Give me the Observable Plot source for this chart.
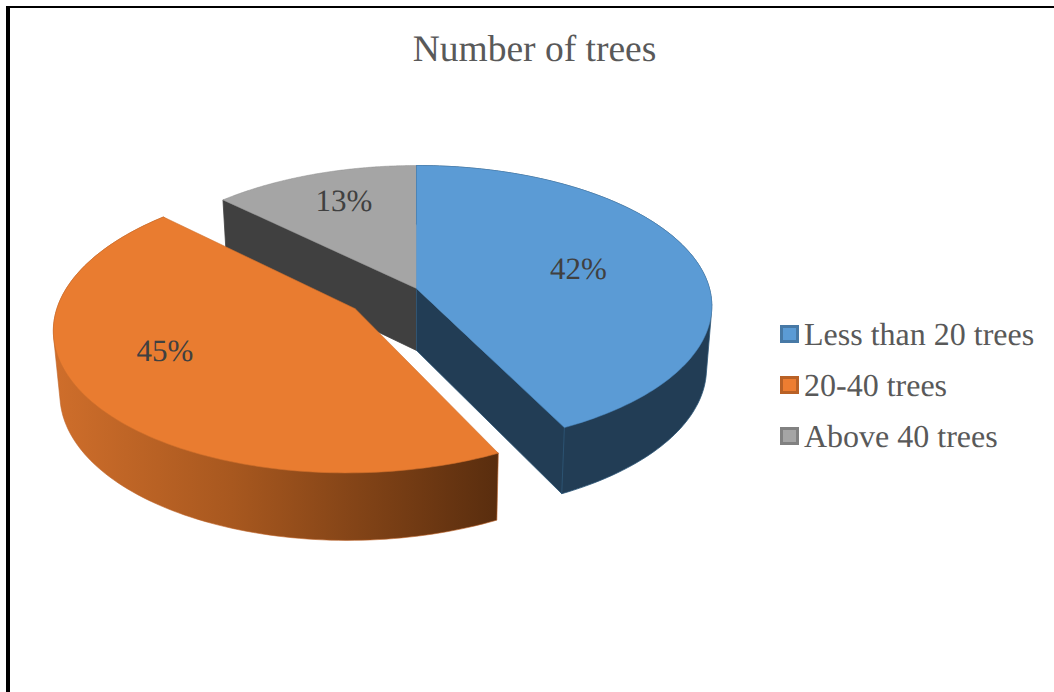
<!DOCTYPE html>
<html>
<head>
<meta charset="utf-8">
<script src="https://cdn.jsdelivr.net/npm/d3@7"></script>
<script src="https://cdn.jsdelivr.net/npm/@observablehq/plot@0.6"></script>
<style>
  html, body { margin: 0; padding: 0; background: #fff; overflow: hidden; }
  #page { position: relative; width: 1054px; height: 692px; overflow: hidden; font-family: "Liberation Serif", serif; text-rendering: geometricPrecision; }
  #page svg { position: absolute; left: 0; top: 0; display: block; text-rendering: geometricPrecision; }
  #frame { position: absolute; left: 6px; top: 6px; right: -10px; bottom: -10px; border-left: 4px solid #000; border-top: 2.5px solid #000; }
  #title { position: absolute; left: 0; top: 28px; width: 1069px; text-align: center; font-size: 37.5px; line-height: 44px; color: #595959; }
  .key { position: absolute; left: 780px; display: flex; align-items: center; height: 30px; font-size: 32px; color: #595959; white-space: nowrap; }
  .swatch { box-sizing: border-box; width: 18.5px; height: 18.5px; border-style: solid; border-width: 3px; margin-right: 5.5px; }
</style>
</head>
<body>
<div id="page">
  <div id="frame"></div>
  <div id="title">Number of trees</div>
</div>
<script>
// Share of each tree-count class, in percent
const categories = ["Less than 20 trees", "20-40 trees", "Above 40 trees"];
const shares = [42, 45, 13];
const topColors = ["#5b9bd5", "#e97c30", "#a5a5a5"];
const edgeColors = ["#4f8cc5", "#cf6f2c", "#8f8f8f"];
const keyFills = ["#5b9bd5", "#ed7d31", "#a5a5a5"];

// Slice that is pulled out of the pie, and how far
const pulledSlice = 1;
const pullDistance = 0.26;
const pullFlatten = 0.9;

// Where each percentage sits inside its slice: [share of the sweep, fraction of the radius]
const labelSpots = [[0.49, 0.58], [0.565, 0.67], [0.54, 0.74]];

// View of the tilted disc: perspective strength and the offset of the pie's floor
const perspective = 0.1246;
const wallDrop = 0.448;
const wallShrinkX = 0.982;
const wallGrowY = 1.03;

const TAU = Math.PI * 2;
const total = d3.sum(shares);
const cumulative = d3.cumsum(shares);

// Slight angular correction of the tilted view
const viewAngle = (t) => t + 0.0175 * (1 - Math.cos(t)) + 0.01 * (1 - Math.cos(2 * t));

// Flat disc coordinates to scene coordinates, top face or floor
function project(dx, dy, floor = false) {
  const w = 1 - perspective * dy;
  const X = dx / w;
  const Y = dy / w;
  return floor ? { x: X * wallShrinkX, y: Y * wallGrowY + wallDrop } : { x: X, y: Y };
}

const slices = shares.map((share, i) => {
  const start = ((cumulative[i] - share) / total) * TAU;
  const end = (cumulative[i] / total) * TAU;
  const mid = (start + end) / 2;
  const pull = i === pulledSlice ? pullDistance : 0;
  return { i, start, end, ox: pull * Math.sin(mid), oy: -pull * pullFlatten * Math.cos(mid) };
});

const rimPoint = (s, t, floor) => {
  const a = viewAngle(t);
  return project(s.ox + Math.sin(a), s.oy - Math.cos(a), floor);
};
const rim = (s, floor) =>
  d3.range(0, 121).map((k) => rimPoint(s, s.start + ((s.end - s.start) * k) / 120, floor));
const hub = (s, floor) => project(s.ox, s.oy, floor);

const closed = (pts) => [...pts, pts[0]];
const face = (s) => closed([hub(s), ...rim(s)]);
// The outer wall is the silhouette swept between the top rim and the floor rim
const outerWall = (s) =>
  closed(d3.polygonHull([...rim(s), ...rim(s, true)].map((p) => [p.x, p.y])).map(([x, y]) => ({ x, y })));
const radialWall = (s, t) => closed([hub(s), rimPoint(s, t), rimPoint(s, t, true), hub(s, true)]);

const piece = (pts, fill, stroke, strokeWidth = 0.8) =>
  Plot.line(pts, { x: "x", y: "y", fill, stroke, strokeWidth, curve: "linear", strokeLinejoin: "round" });

// Gradient shading along the front wall of the pulled slice
const wallShade = () => {
  const defs = d3.create("svg:defs");
  const g = defs.append("linearGradient").attr("id", "orangeWall").attr("x1", 0).attr("x2", 1).attr("y1", 0).attr("y2", 0);
  g.append("stop").attr("offset", "0%").attr("stop-color", "#cf6e2b");
  g.append("stop").attr("offset", "40%").attr("stop-color", "#a8581f");
  g.append("stop").attr("offset", "100%").attr("stop-color", "#592d0e");
  return defs.node();
};

const [blue, orange, gray] = slices;
const labels = slices.map((s) => {
  const [f, r] = labelSpots[s.i];
  const a = viewAngle(s.start + (s.end - s.start) * f);
  return { ...project(s.ox + r * Math.sin(a), s.oy - r * Math.cos(a)), text: `${shares[s.i]}%` };
});

const chart = Plot.plot({
  width: 1054,
  height: 692,
  margin: 0,
  x: { domain: [-1, 1], range: [123, 709], axis: null },
  y: { domain: [-1, 1], range: [149.7, 426.3], axis: null },
  style: { background: "transparent" },
  marks: [
    wallShade,
    // Back slice, with the cut face left open by the pulled slice
    piece(radialWall(gray, gray.start), "#404040", "#404040"),
    piece(face(gray), topColors[2], edgeColors[2], 0.5),
    // Slice on the right: outer wall, cut face, top
    piece(outerWall(blue), "#223d55", "#2f5878"),
    piece(radialWall(blue, blue.end), "#223d55", "#2f5878"),
    piece(face(blue), topColors[0], edgeColors[0], 0.5),
    // Pulled slice: shaded outer wall, top
    piece(outerWall(orange), "url(#orangeWall)", "#c0642a", 0.6),
    piece(face(orange), topColors[1], edgeColors[1], 0.6),
    Plot.text(labels, {
      x: "x",
      y: "y",
      text: "text",
      fontSize: 31,
      fontFamily: "Liberation Serif",
      fill: "#404040",
      textAnchor: "middle",
      lineAnchor: "middle"
    })
  ]
});

const page = document.getElementById("page");
page.appendChild(chart);

// Key beside the pie
const keyTops = [319, 370, 421];
categories.forEach((name, i) => {
  const row = document.createElement("div");
  row.className = "key";
  row.style.top = keyTops[i] + "px";
  const swatch = document.createElement("span");
  swatch.className = "swatch";
  swatch.style.background = keyFills[i];
  swatch.style.borderColor = d3.color(keyFills[i]).darker(0.7).formatHex();
  row.appendChild(swatch);
  row.appendChild(document.createTextNode(name));
  page.appendChild(row);
});
</script>
</body>
</html>
